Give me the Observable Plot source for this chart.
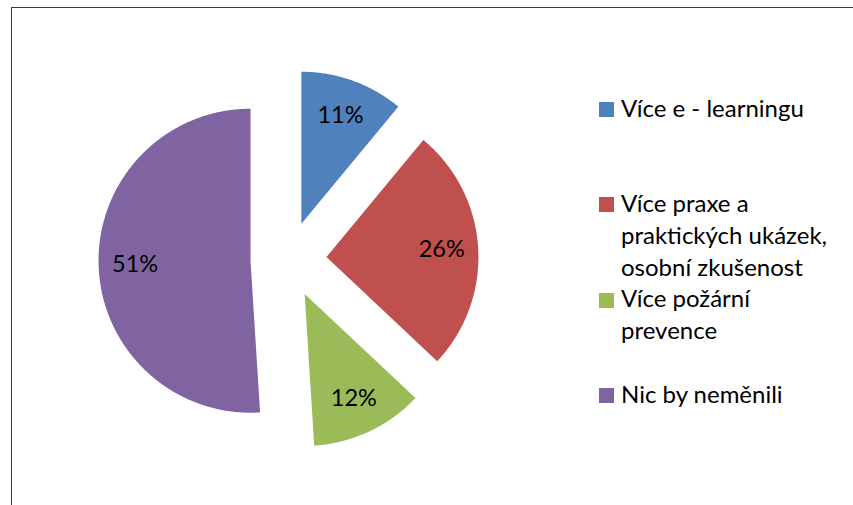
<!DOCTYPE html>
<html><head><meta charset="utf-8">
<script src="https://cdn.jsdelivr.net/npm/d3@7"></script>
<script src="https://cdn.jsdelivr.net/npm/@observablehq/plot@0.6"></script>
<style>
html,body{margin:0;padding:0;background:#fff;}
body{width:853px;height:505px;overflow:hidden;position:relative;font-family:Lato,"Open Sans",sans-serif;}
#frame{position:absolute;left:11px;top:7px;width:900px;height:600px;border:1.3px solid #3a3a3a;box-sizing:border-box;}
#chart{position:absolute;left:0;top:0;}
#legend{position:absolute;left:599px;top:0;}
.item{position:absolute;left:0;width:250px;}
.sw{position:absolute;left:0;top:10.3px;width:15px;height:15px;}
.tx{position:absolute;left:22px;top:0;font-size:24px;line-height:32px;color:#000;white-space:pre;}
</style>
</head><body>
<div id="frame"></div>
<div id="chart"></div>
<div id="legend"></div>
<script>
const categories = ["Více e - learningu", "Více praxe a praktických ukázek, osobní zkušenost", "Více požární prevence", "Nic by neměnili"];
const legendLines = [["Více e - learningu"], ["Více praxe a", "praktických ukázek,", "osobní zkušenost"], ["Více požární", "prevence"], ["Nic by neměnili"]];
const values = [11, 26, 12, 51];
const valueLabels = ["11%", "26%", "12%", "51%"];
const colors = ["#4F81BD", "#C0504D", "#9BBB59", "#8064A2"];

// layout
const W = 853, H = 505;
const R = 152, CX = 288, CY = 259;
const EXPLODE = 0.25, LABEL_R = 0.76;

const total = d3.sum(values);
let acc = 0;
const slices = values.map((v, i) => {
  const a0 = acc / total * 2 * Math.PI; acc += v;
  const a1 = acc / total * 2 * Math.PI;
  const mid = (a0 + a1) / 2;
  return {i, cat: categories[i], a0, a1, mid,
    vx: EXPLODE * Math.sin(mid), vy: EXPLODE * Math.cos(mid)};
});
const pts = [];
for (const s of slices) {
  pts.push({cat: s.cat, x: s.vx, y: s.vy});
  const n = Math.max(2, Math.ceil((s.a1 - s.a0) / (Math.PI / 360)));
  for (let k = 0; k <= n; k++) {
    const a = s.a0 + (s.a1 - s.a0) * k / n;
    pts.push({cat: s.cat, x: s.vx + Math.sin(a), y: s.vy + Math.cos(a)});
  }
  pts.push({cat: s.cat, x: s.vx, y: s.vy});
}

const chart = Plot.plot({
  width: W, height: H,
  margin: 0,
  style: {background: "transparent", overflow: "visible"},
  x: {domain: [-CX / R, (W - CX) / R], axis: null},
  y: {domain: [-(H - CY) / R, CY / R], axis: null},
  color: {domain: categories, range: colors},
  marks: [
    Plot.line(pts, {x: "x", y: "y", z: "cat", fill: "cat", stroke: "none", curve: "linear"}),
    Plot.text(slices, {
      x: d => d.vx + LABEL_R * Math.sin(d.mid),
      y: d => d.vy + LABEL_R * Math.cos(d.mid),
      text: d => valueLabels[d.i],
      fill: "#000", fontSize: 23.5, fontFamily: "Lato, 'Open Sans', sans-serif"
    })
  ]
});
document.getElementById("chart").appendChild(chart);

const legend = document.getElementById("legend");
categories.forEach((c, i) => {
  const item = document.createElement("div");
  item.className = "item";
  item.style.top = (91.7 + 95.3 * i) + "px";
  const sw = document.createElement("div");
  sw.className = "sw"; sw.style.background = colors[i];
  const tx = document.createElement("div");
  tx.className = "tx"; tx.textContent = legendLines[i].join("\n");
  item.appendChild(sw); item.appendChild(tx);
  legend.appendChild(item);
});
</script>
</body></html>
